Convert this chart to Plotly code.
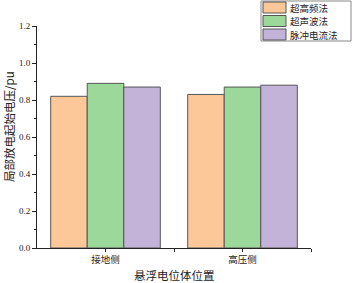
import plotly.graph_objects as go

categories = ["接地侧", "高压侧"]
series_names = ["超高频法", "超声波法", "脉冲电流法"]
series_values = [
    [0.82, 0.83],
    [0.89, 0.87],
    [0.87, 0.88],
]
colors = ["#FDC899", "#9DD89B", "#C3B3D8"]
y_ticks = [0.0, 0.2, 0.4, 0.6, 0.8, 1.0, 1.2]

num_font = "Liberation Serif, Noto Sans CJK SC"
cjk_font = "Noto Sans CJK SC"

L, R, T, B = 37, 42, 26, 35
FW, FH = 353, 283

fig = go.Figure()
x_pos = list(range(len(categories)))
for name, vals, c in zip(series_names, series_values, colors):
    fig.add_trace(go.Bar(
        x=x_pos, y=vals, name=name, marker_color=c,
        marker_line=dict(color="#555555", width=1), showlegend=False,
    ))

fig.update_layout(
    width=FW, height=FH,
    margin=dict(l=L, r=R, t=T, b=B, autoexpand=False),
    plot_bgcolor="white", paper_bgcolor="white",
    barmode="group", bargap=0.2, bargroupgap=0,
    xaxis=dict(
        range=[-0.5, 1.5], tickmode="array",
        tickvals=[0, 0.5, 1, 1.5], ticktext=[categories[0], "", categories[1], ""],
        showline=True, linecolor="#222", linewidth=1, ticks="outside",
        ticklen=3, tickcolor="#222", showgrid=False, zeroline=False,
        tickfont=dict(family=cjk_font, size=9.5, color="#222"),
        automargin=False,
    ),
    yaxis=dict(
        range=[0, 1.2], tickmode="array", tickvals=y_ticks,
        ticktext=[f"{v:.1f}" for v in y_ticks],
        showline=True, linecolor="#222", linewidth=1, ticks="outside",
        ticklen=4, tickcolor="#222", showgrid=False, zeroline=False,
        tickfont=dict(family=num_font, size=9, color="#222"),
        minor=dict(dtick=0.1, ticks="outside", ticklen=2, tickcolor="#222"),
        automargin=False,
    ),
)

W = FW - L - R
H = FH - T - B
def px_x(px):
    return (px - L) / W
def px_y(py):
    return (FH - B - py) / H

# axis titles
fig.add_annotation(xref="paper", yref="paper", x=px_x(174), y=px_y(275),
                   text="悬浮电位体位置", showarrow=False, xanchor="center", yanchor="middle",
                   font=dict(family=cjk_font, size=11.5, color="#222"))
fig.add_annotation(xref="paper", yref="paper", x=px_x(9), y=px_y(127),
                   text="局部放电起始电压/pu", showarrow=False, textangle=-90,
                   xanchor="center", yanchor="middle",
                   font=dict(family=cjk_font, size=11.5, color="#222"))

# manual legend
fig.add_shape(type="rect", xref="paper", yref="paper",
              x0=px_x(261), x1=px_x(351), y0=px_y(41), y1=px_y(1),
              line=dict(color="#888888", width=1), fillcolor="white", layer="above")
for i, (name, c) in enumerate(zip(series_names, colors)):
    yc = 7.5 + 13.5 * i
    fig.add_shape(type="rect", xref="paper", yref="paper",
                  x0=px_x(263), x1=px_x(286), y0=px_y(yc + 5.5), y1=px_y(yc - 5.5),
                  line=dict(color="#555555", width=1), fillcolor=c, layer="above")
    fig.add_annotation(xref="paper", yref="paper", x=px_x(289), y=px_y(yc),
                       text=name, showarrow=False, xanchor="left", yanchor="middle",
                       borderpad=0, font=dict(family=cjk_font, size=9.5, color="#222"))

fig.write_html(
    "out.html",
    config={"displayModeBar": False},
    post_script="document.body.style.margin='0';document.body.style.overflow='hidden';",
)
